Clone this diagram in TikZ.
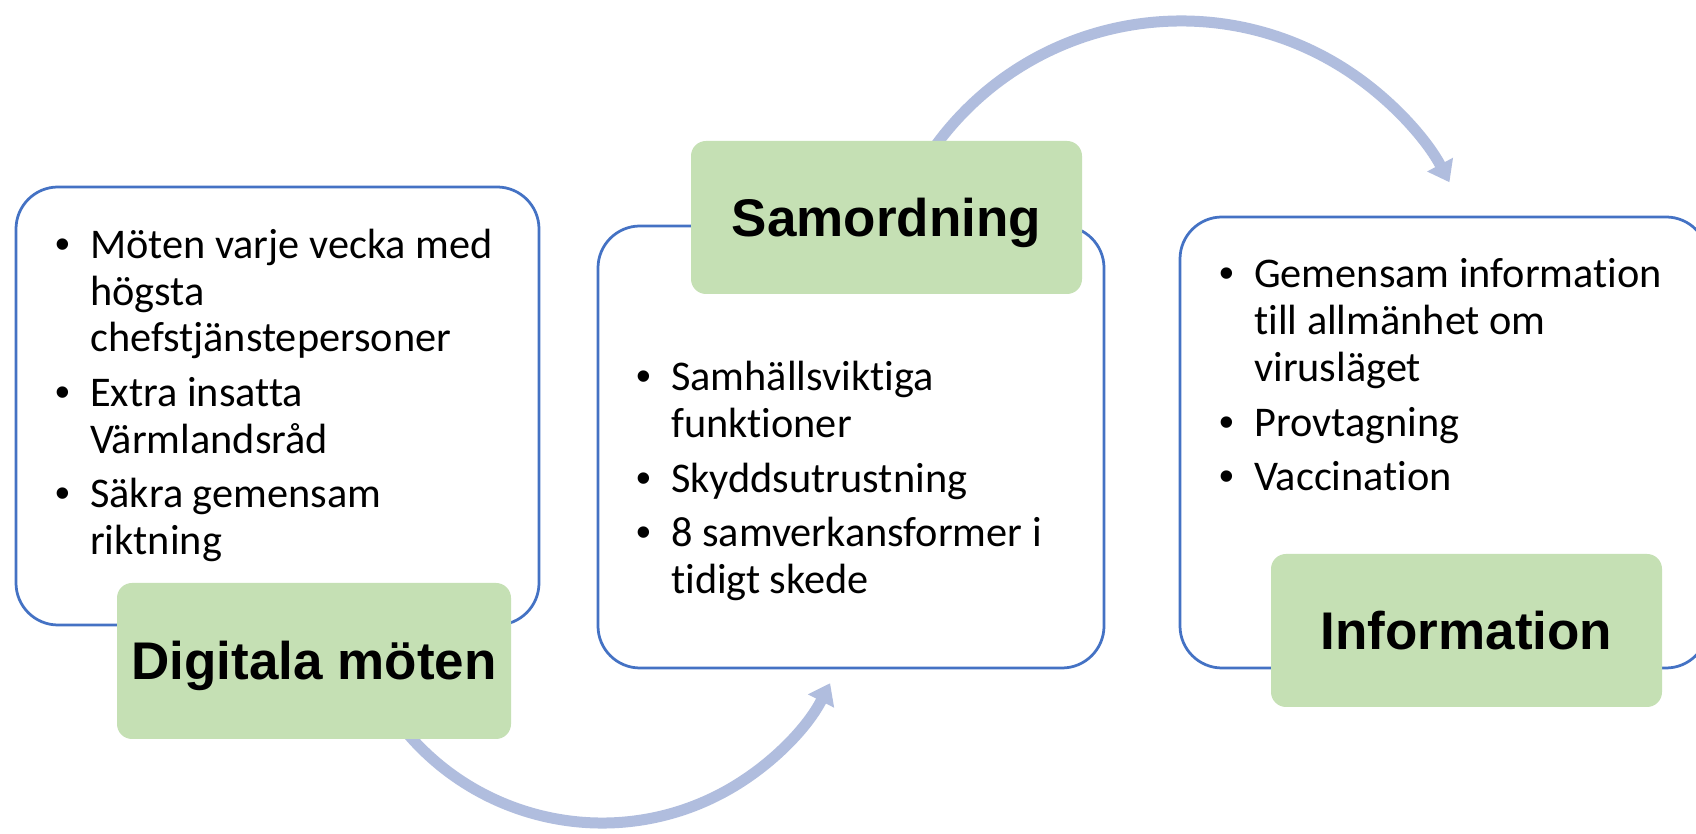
\documentclass[tikz,border=0pt]{standalone}
\usepackage{fontspec}
\setmainfont{Carlito}[Ligatures=NoCommon]
\newfontfamily\labelfont{Liberation Sans}
\newfontfamily\bulletfont{Liberation Sans}
\usetikzlibrary{arrows.meta}
\definecolor{boxblue}{HTML}{4472C4}
\definecolor{labelgreen}{HTML}{C5E0B4}
\definecolor{arrowblue}{HTML}{B0BDDE}
\tikzset{
  whitebox/.style={draw=boxblue, line width=2.75pt, fill=white, rounded corners=42pt, inner sep=0pt, outer sep=0pt},
  greenbox/.style={fill=labelgreen, rounded corners=15pt, inner sep=0pt, outer sep=0pt,
    font=\labelfont\bfseries\fontsize{53}{60}\selectfont, text height=38pt, text depth=0pt},
  itemline/.style={anchor=base west, inner sep=0pt, font=\fontsize{42.3}{47}\selectfont},
  bulletmark/.style={anchor=base, inner sep=0pt, font=\bulletfont\fontsize{42}{47}\selectfont},
  cyclearrow/.style={draw=arrowblue, line width=11pt, -{Triangle[length=20pt,width=28pt]}},
}
\begin{document}
\begin{tikzpicture}[x=1pt,y=1pt]
\useasboundingbox (0,0) rectangle (1696,834);
\clip (0,0) rectangle (1696,834);
\fill[white] (0,0) rectangle (1696,834);

% white boxes
\node[whitebox, minimum width=523pt, minimum height=438pt] (w1) at (277.5,428) {};
\node[whitebox, minimum width=506pt, minimum height=442pt] (w2) at (851,387) {};
\node[whitebox, minimum width=528pt, minimum height=451pt] (w3) at (1444,391.5) {};

% circular arrows (centres of the arcs)
\coordinate (c1) at (602,267);
\coordinate (c2) at (1181,509);
\draw[cyclearrow] (c1) ++(210:256pt) arc[start angle=210, end angle=333, radius=256pt];
\draw[cyclearrow] (c2) ++(145:304pt) arc[start angle=145, end angle=28, radius=304pt];

% green label boxes
\node[greenbox, minimum width=394pt, minimum height=156pt] (g1) at (314,173) {Digitala möten};
\node[greenbox, minimum width=391pt, minimum height=153pt] (g2) at (886.5,616.5) {Samordning};
\node[greenbox, minimum width=391pt, minimum height=153pt] (g3) at (1466.5,203.5) {Information};

% box 1 text
\node[bulletmark] (b1a) at (63,575) {•};
\node[itemline] (t1a) at (90,575) {Möten varje vecka med};
\node[itemline] (t1b) at (90,528) {högsta};
\node[itemline] (t1c) at (90,482) {chefstjänstepersoner};
\node[bulletmark] (b1b) at (63,427) {•};
\node[itemline] (t1d) at (90,427) {Extra insatta};
\node[itemline] (t1e) at (90,380) {Värmlandsråd};
\node[bulletmark] (b1c) at (63,326) {•};
\node[itemline] (t1f) at (90,326) {Säkra gemensam};
\node[itemline] (t1g) at (90,279) {riktning};

% box 2 text
\node[bulletmark] (b2a) at (644,443) {•};
\node[itemline] (t2a) at (671,443) {Samhällsviktiga};
\node[itemline] (t2b) at (671,396) {funktioner};
\node[bulletmark] (b2b) at (644,341) {•};
\node[itemline] (t2c) at (671,341) {Skyddsutrustning};
\node[bulletmark] (b2c) at (644,287) {•};
\node[itemline] (t2d) at (671,287) {8 samverkansformer i};
\node[itemline] (t2e) at (671,240) {tidigt skede};

% box 3 text
\node[bulletmark] (b3a) at (1227,546) {•};
\node[itemline] (t3a) at (1254,546) {Gemensam information};
\node[itemline] (t3b) at (1254,499) {till allmänhet om};
\node[itemline] (t3c) at (1254,452) {virusläget};
\node[bulletmark] (b3b) at (1227,397) {•};
\node[itemline] (t3d) at (1254,397) {Provtagning};
\node[bulletmark] (b3c) at (1227,343) {•};
\node[itemline] (t3e) at (1254,343) {Vaccination};
\end{tikzpicture}
\end{document}
